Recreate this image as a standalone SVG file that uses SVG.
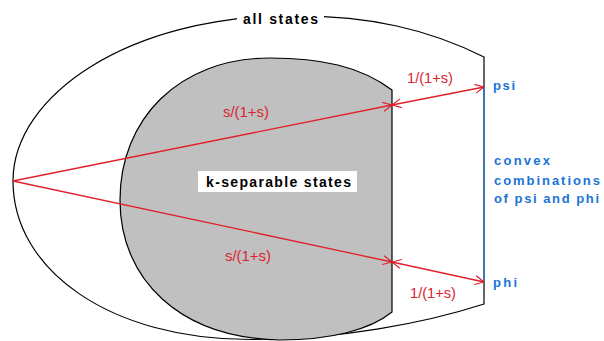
<svg xmlns="http://www.w3.org/2000/svg" width="604" height="341" viewBox="0 0 604 341">
  <style>
    .outline { fill: none; stroke: #000; stroke-width: 1.2; }
    .gray { fill: #c0c0c0; stroke: #000; stroke-width: 1.2; }
    .ray { fill: none; stroke: #e0202a; stroke-width: 1.3; }
    .blk { font-family: "Liberation Sans", Arial, sans-serif; font-weight: bold; font-size: 14px; fill: #000; }
    .red { font-family: "Liberation Sans", Arial, sans-serif; font-size: 14px; fill: #d8242e; }
    .blue { font-family: "Liberation Sans", Arial, sans-serif; font-weight: bold; font-size: 13px; fill: #1a74d6; }
  </style>
  <defs>
    <marker id="arr" viewBox="0 0 10 10" refX="10" refY="5" markerUnits="userSpaceOnUse" markerWidth="9" markerHeight="10" orient="auto-start-reverse">
      <path d="M0,0 L10,5 L0,10" fill="none" stroke="#e0202a" stroke-width="1.3"/>
    </marker>
  </defs>
  <rect width="604" height="341" fill="#fff"/>

  <g id="all-states">
    <path class="outline" d="M484,57 C430,30 370,15 290,16 C130,16 13,95 13,181 C13,270 110,339.5 250,339.5 C340,339.5 425,323 484,304 Z"/>
    <rect x="237" y="9" width="87" height="19" fill="#fff"/>
    <text class="blk" x="243" y="24" textLength="75" lengthAdjust="spacing">all states</text>
  </g>

  <g id="k-separable">
    <path class="gray" d="M392,90 C360,66 320,58 270,58 C178,58 120,120 120,200 C120,280 180,338 280,340 C330,340 370,330 392,312 Z"/>
  </g>

  <g id="convex-line">
    <line x1="484" y1="87" x2="484" y2="282" stroke="#2a7fd8" stroke-width="1.3"/>
  </g>

  <g id="connectors">
    <line class="ray" x1="13" y1="181" x2="392" y2="105" marker-end="url(#arr)"/>
    <line class="ray" x1="392" y1="105" x2="484" y2="87" marker-start="url(#arr)" marker-end="url(#arr)"/>
    <line class="ray" x1="13" y1="181" x2="392" y2="262" marker-end="url(#arr)"/>
    <line class="ray" x1="392" y1="262" x2="484" y2="282" marker-start="url(#arr)" marker-end="url(#arr)"/>
    <text class="red" x="223" y="117" textLength="46" lengthAdjust="spacingAndGlyphs">s/(1+s)</text>
    <text class="red" x="225" y="261" textLength="46" lengthAdjust="spacingAndGlyphs">s/(1+s)</text>
    <text class="red" x="407" y="83" textLength="46" lengthAdjust="spacingAndGlyphs">1/(1+s)</text>
    <text class="red" x="410" y="298" textLength="46" lengthAdjust="spacingAndGlyphs">1/(1+s)</text>
  </g>

  <g id="k-label">
    <rect x="198" y="171" width="159" height="21" fill="#fff"/>
    <text class="blk" x="206" y="187" textLength="145" lengthAdjust="spacing">k-separable states</text>
  </g>

  <g id="psi">
    <text class="blue" x="493" y="90" textLength="22" lengthAdjust="spacing">psi</text>
  </g>
  <g id="phi">
    <text class="blue" x="493" y="287" textLength="24" lengthAdjust="spacing">phi</text>
  </g>
  <g id="convex-label">
    <text class="blue" x="494" y="165" textLength="56" lengthAdjust="spacing">convex</text>
    <text class="blue" x="494" y="185" textLength="106" lengthAdjust="spacing">combinations</text>
    <text class="blue" x="494" y="203" textLength="105" lengthAdjust="spacing">of psi and phi</text>
  </g>
</svg>
